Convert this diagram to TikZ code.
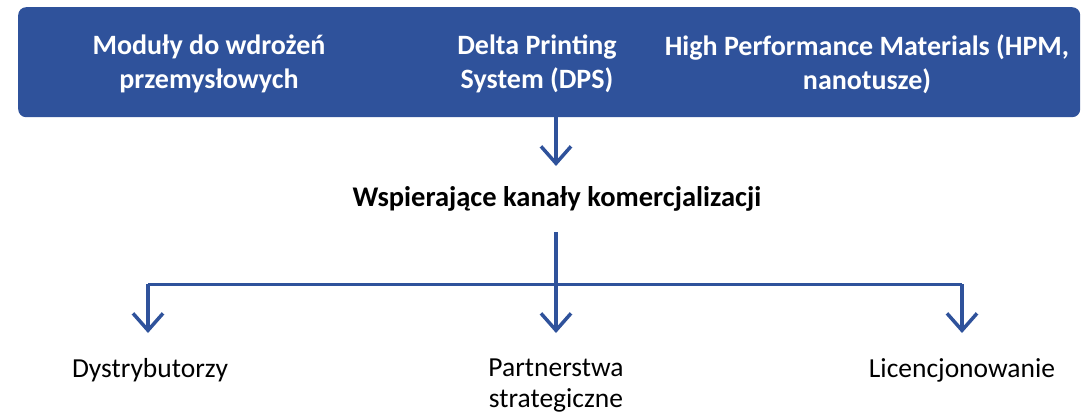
\documentclass[tikz,border=0pt]{standalone}
\usepackage{fontspec}
\setmainfont{Carlito}
\usetikzlibrary{arrows.meta}
\definecolor{dblue}{RGB}{47,82,155}
\tikzset{
  topbox/.style={draw=none, fill=dblue, rounded corners=8pt, minimum width=1062pt, minimum height=110pt, inner sep=0pt},
  toptext/.style={text=white, font=\bfseries\fontsize{28}{34}\selectfont, align=center, inner sep=0pt},
  midtext/.style={text=black, font=\bfseries\fontsize{28.5}{32}\selectfont, align=center, inner sep=0pt},
  bottext/.style={text=black, font=\fontsize{27.5}{31}\selectfont, align=center, inner sep=0pt},
  conn/.style={draw=dblue, line width=3.5pt},
  arr/.style={conn, -{Straight Barb[length=17pt, width=30pt, line width=3.5pt]}}
}
\begin{document}
\begin{tikzpicture}[x=1pt, y=-1pt]
\useasboundingbox (0,0) rectangle (1086,418);
\node[topbox, anchor=north west] (box) at (18,7) {};
\node[toptext] (m1) at (209,64) {Moduły do wdrożeń\\przemysłowych};
\node[toptext] (m2) at (537,64) {Delta Printing\\System (DPS)};
\node[toptext] (m3) at (867,64) {High Performance Materials (HPM,\\nanotusze)};
\node[midtext] (mid) at (557,199) {Wspierające kanały komercjalizacji};
\node[bottext, anchor=base] (b1) at (150,377) {Dystrybutorzy};
\node[bottext, anchor=base] (b2) at (556,407) {Partnerstwa\\strategiczne};
\node[bottext, anchor=base] (b3) at (962,377) {Licencjonowanie};
\coordinate (s1) at (556,117);
\coordinate (e1) at (556,166);
\coordinate (s2) at (556,232);
\coordinate (j) at (556,284);
\coordinate (jl) at (148,284);
\coordinate (jr) at (962,284);
\coordinate (e21) at (148,333);
\coordinate (e22) at (556,333);
\coordinate (e23) at (962,333);
\draw[arr] (s1) -- (e1);
\draw[conn] (s2) -- (j);
\draw[conn, line width=3pt] (jl) -- (jr);
\draw[arr] (jl) -- (e21);
\draw[arr] (j) -- (e22);
\draw[arr] (jr) -- (e23);
\end{tikzpicture}
\end{document}
